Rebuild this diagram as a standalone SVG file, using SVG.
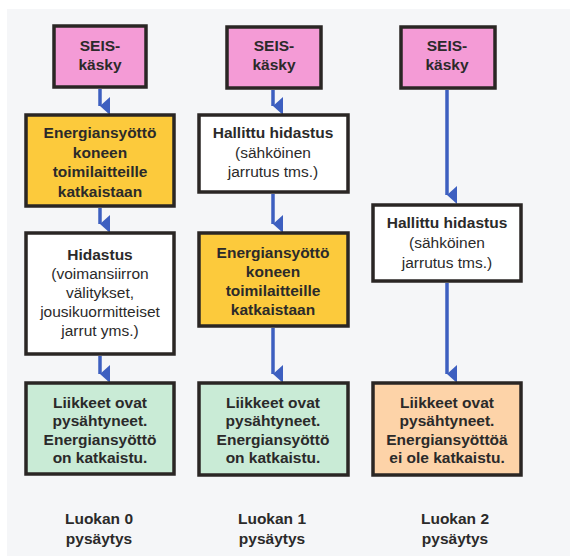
<svg xmlns="http://www.w3.org/2000/svg" width="570" height="556" viewBox="0 0 570 556">
<defs>
<marker id="ah" markerWidth="18" markerHeight="10" refX="9" refY="10" orient="auto-start-reverse" markerUnits="userSpaceOnUse" viewBox="0 0 18 10">
<path d="M0,0 L18,0 L9,10 Z" fill="#3d5fc0"/>
</marker>
<style>
.box{stroke:#2a2624;stroke-width:3.5}
.pink{fill:#f49bd6}
.yel{fill:#fcca3c}
.wht{fill:#ffffff}
.grn{fill:#c9ebd6}
.org{fill:#fdd3a8}
text{font-family:"Liberation Sans",Arial,sans-serif;font-size:15.5px;fill:#2b2a2a;text-anchor:middle}
.b{font-weight:bold}
.conn line{stroke:#3d5fc0;stroke-width:3.5;fill:none}
</style>
</defs>
<rect x="0" y="0" width="570" height="556" fill="#ffffff"/>
<rect x="7" y="9" width="563" height="547" fill="#f5f6f8"/>

<g id="connectors" class="conn">
<line x1="100" y1="89" x2="100" y2="106" marker-end="url(#ah)"/>
<line x1="100" y1="208" x2="100" y2="224" marker-end="url(#ah)"/>
<line x1="100" y1="356" x2="100" y2="374" marker-end="url(#ah)"/>
<line x1="273" y1="90" x2="273" y2="106" marker-end="url(#ah)"/>
<line x1="273" y1="194" x2="273" y2="224" marker-end="url(#ah)"/>
<line x1="273" y1="328" x2="273" y2="374" marker-end="url(#ah)"/>
<line x1="447" y1="90" x2="447" y2="195" marker-end="url(#ah)"/>
<line x1="447" y1="283" x2="447" y2="374" marker-end="url(#ah)"/>
</g>

<g id="c0-seis">
<rect class="box pink" x="54" y="26" width="92" height="61"/>
<text class="b" x="100" y="51">SEIS-</text>
<text class="b" x="100" y="70">käsky</text>
</g>
<g id="c0-energia">
<rect class="box yel" x="26" y="115" width="148" height="91"/>
<text class="b" x="100" y="138">Energiansyöttö</text>
<text class="b" x="100" y="158">koneen</text>
<text class="b" x="100" y="177">toimilaitteille</text>
<text class="b" x="100" y="197">katkaistaan</text>
</g>
<g id="c0-hidastus">
<rect class="box wht" x="26" y="233" width="148" height="121"/>
<text class="b" x="100" y="260">Hidastus</text>
<text x="100" y="279">(voimansiirron</text>
<text x="100" y="298">välitykset,</text>
<text x="100" y="317">jousikuormitteiset</text>
<text x="100" y="336">jarrut yms.)</text>
</g>
<g id="c0-tulos">
<rect class="box grn" x="26" y="383" width="148" height="91"/>
<text class="b" x="100" y="408">Liikkeet ovat</text>
<text class="b" x="100" y="426">pysähtyneet.</text>
<text class="b" x="100" y="445">Energiansyöttö</text>
<text class="b" x="100" y="463">on katkaistu.</text>
</g>

<g id="c1-seis">
<rect class="box pink" x="227" y="27" width="94" height="61"/>
<text class="b" x="274" y="51">SEIS-</text>
<text class="b" x="274" y="70">käsky</text>
</g>
<g id="c1-hidastus">
<rect class="box wht" x="199" y="115" width="149" height="77"/>
<text class="b" x="273" y="138">Hallittu hidastus</text>
<text x="273" y="158">(sähköinen</text>
<text x="273" y="177">jarrutus tms.)</text>
</g>
<g id="c1-energia">
<rect class="box yel" x="199" y="233" width="149" height="93"/>
<text class="b" x="273" y="258">Energiansyöttö</text>
<text class="b" x="273" y="277">koneen</text>
<text class="b" x="273" y="296">toimilaitteille</text>
<text class="b" x="273" y="315">katkaistaan</text>
</g>
<g id="c1-tulos">
<rect class="box grn" x="199" y="383" width="149" height="92"/>
<text class="b" x="273" y="408">Liikkeet ovat</text>
<text class="b" x="273" y="426">pysähtyneet.</text>
<text class="b" x="273" y="445">Energiansyöttö</text>
<text class="b" x="273" y="463">on katkaistu.</text>
</g>

<g id="c2-seis">
<rect class="box pink" x="401" y="27" width="94" height="61"/>
<text class="b" x="447" y="51">SEIS-</text>
<text class="b" x="447" y="70">käsky</text>
</g>
<g id="c2-hidastus">
<rect class="box wht" x="373" y="205" width="148" height="76"/>
<text class="b" x="447" y="228">Hallittu hidastus</text>
<text x="447" y="248">(sähköinen</text>
<text x="447" y="268">jarrutus tms.)</text>
</g>
<g id="c2-tulos">
<rect class="box org" x="373" y="383" width="148" height="92"/>
<text class="b" x="447" y="408">Liikkeet ovat</text>
<text class="b" x="447" y="426">pysähtyneet.</text>
<text class="b" x="447" y="445">Energiansyöttöä</text>
<text class="b" x="447" y="463">ei ole katkaistu.</text>
</g>

<g id="labels">
<text class="b" x="99" y="524">Luokan 0</text>
<text class="b" x="99" y="544">pysäytys</text>
<text class="b" x="272" y="524">Luokan 1</text>
<text class="b" x="272" y="544">pysäytys</text>
<text class="b" x="455" y="524">Luokan 2</text>
<text class="b" x="455" y="544">pysäytys</text>
</g>
</svg>
